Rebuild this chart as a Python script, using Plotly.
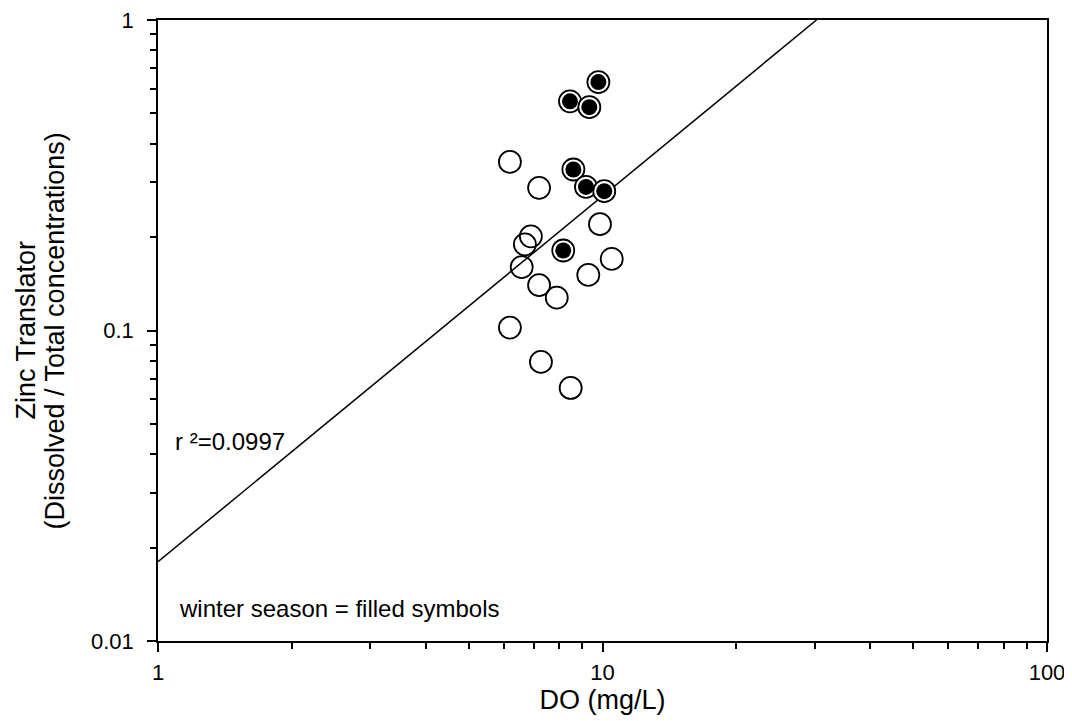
import plotly.graph_objects as go

# Data
summer_do = [6.19, 7.20, 9.87, 6.90, 6.69, 10.49, 6.58, 9.29, 7.20, 7.89, 6.19, 7.27, 8.48]
summer_zn = [0.349, 0.288, 0.220, 0.201, 0.1895, 0.170, 0.160, 0.151, 0.140, 0.1276, 0.1022, 0.0792, 0.0653]

winter_do = [9.79, 8.45, 9.34, 8.60, 9.18, 10.09, 8.16]
winter_zn = [0.631, 0.547, 0.524, 0.330, 0.290, 0.281, 0.181]

fit_do = [1.0, 30.3]
fit_zn = [0.018, 1.0]

x_tick_vals = [1, 10, 100]
x_tick_text = ["1", "10", "100"]
y_tick_vals = [0.01, 0.1, 1]
y_tick_text = ["0.01", "0.1", "1"]
x_minor_vals = [2, 3, 4, 5, 6, 7, 8, 9, 20, 30, 40, 50, 60, 70, 80, 90]
y_minor_vals = [0.02, 0.03, 0.04, 0.05, 0.06, 0.07, 0.08, 0.09,
                0.2, 0.3, 0.4, 0.5, 0.6, 0.7, 0.8, 0.9]

y_title_lines = ["Zinc Translator", "(Dissolved / Total concentrations)"]

FONT = "Liberation Sans, Arial, sans-serif"

fig = go.Figure()

fig.add_trace(go.Scatter(
    x=fit_do, y=fit_zn, mode="lines",
    line=dict(color="black", width=1.5), hoverinfo="skip", showlegend=False))

fig.add_trace(go.Scatter(
    x=summer_do, y=summer_zn, mode="markers",
    marker=dict(symbol="circle-open", size=22, color="black", line=dict(width=1.8)),
    showlegend=False))

fig.add_trace(go.Scatter(
    x=winter_do, y=winter_zn, mode="markers",
    marker=dict(symbol="circle", size=22, color="white", line=dict(color="black", width=1.8)),
    showlegend=False, hoverinfo="skip"))

fig.add_trace(go.Scatter(
    x=winter_do, y=winter_zn, mode="markers",
    marker=dict(symbol="circle", size=16, color="black", line=dict(width=0)),
    showlegend=False))

axis_common = dict(
    type="log", showgrid=False, zeroline=False,
    showline=True, linecolor="black", linewidth=1.5, mirror=True,
    ticks="outside", ticklen=9, tickwidth=1.5, tickcolor="black",
    tickfont=dict(family=FONT, size=22, color="black"),
    tickmode="array", ticklabeloverflow="allow",
)

fig.update_xaxes(
    **axis_common, range=[0, 2],
    tickvals=x_tick_vals, ticktext=x_tick_text, ticklabelstandoff=2,
    minor=dict(ticks="outside", ticklen=6, tickwidth=1.5, tickcolor="black",
               tickmode="array", tickvals=x_minor_vals, showgrid=False),
    title=dict(text="DO (mg/L)", font=dict(family=FONT, size=27, color="black"), standoff=0),
)
fig.update_yaxes(
    **axis_common, range=[-2, 0],
    tickvals=y_tick_vals, ticktext=y_tick_text, ticklabelstandoff=9,
    minor=dict(ticks="outside", ticklen=6, tickwidth=1.5, tickcolor="black",
               tickmode="array", tickvals=y_minor_vals, showgrid=False),
)

# two-line rotated y-axis title
for xpos, line in zip([-0.1496, -0.1159], y_title_lines):
    fig.add_annotation(x=xpos, y=0.5, xref="paper", yref="paper", text=line,
                       textangle=-90, showarrow=False, xanchor="center", yanchor="middle",
                       font=dict(family=FONT, size=27, color="black"))

fig.add_annotation(x=0.0169, y=0.322, xref="paper", yref="paper",
                   text="r ²=0.0997", showarrow=False, xanchor="left", yanchor="middle",
                   font=dict(family=FONT, size=24, color="black"))
fig.add_annotation(x=0.0214, y=0.053, xref="paper", yref="paper",
                   text="winter season = filled symbols", showarrow=False,
                   xanchor="left", yanchor="middle",
                   font=dict(family=FONT, size=24, color="black"))

fig.update_layout(
    width=1064, height=713,
    margin=dict(l=150, r=25, t=11.5, b=80, pad=0, autoexpand=False),
    plot_bgcolor="white", paper_bgcolor="white",
    showlegend=False,
)

fig.write_html("out.html")
